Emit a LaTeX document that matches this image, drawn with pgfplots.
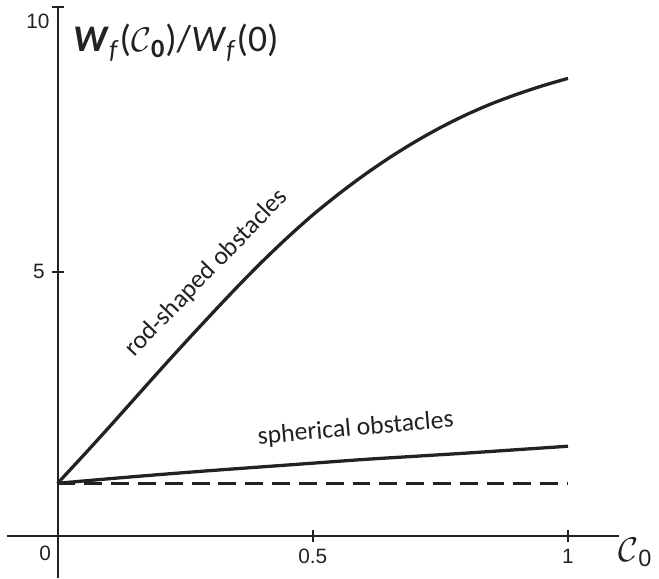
\documentclass[border=0pt]{standalone}
\usepackage{fontspec}
\setmainfont{Liberation Sans}
\newfontfamily\carlito{Carlito}
\usepackage{pgfplots}
\pgfplotsset{compat=1.18}
\definecolor{ink}{HTML}{222222}
\begin{document}
\begin{tikzpicture}
\begin{axis}[
  x=257bp, y=26.65bp,
  axis lines=middle,
  axis line style={-, line width=1bp, ink},
  xmin=-0.1, xmax=1.1, ymin=-0.788, ymax=10,
  xtick={0.5,1}, xticklabels={0.5,1},
  ytick={5,10}, yticklabels={5,{}},
  tick align=center, major tick length=6bp,
  tick style={line width=1bp, ink},
  ticklabel style={font=\fontsize{10.5}{12}\selectfont, text=ink},
  clip=false,
]
% rod-shaped obstacles
\addplot[line width=1.65bp, ink, smooth] coordinates {
  (0,1) (0.05,1.52) (0.1,2.05) (0.15,2.59) (0.2,3.13) (0.25,3.66)
  (0.3,4.18) (0.35,4.69) (0.4,5.18) (0.45,5.64) (0.5,6.07) (0.55,6.46)
  (0.6,6.82) (0.65,7.15) (0.7,7.45) (0.75,7.72) (0.8,7.96) (0.85,8.17)
  (0.9,8.35) (0.95,8.51) (1,8.65)};
% spherical obstacles
\addplot[line width=1.65bp, ink, smooth] coordinates {
  (0,1) (0.1,1.085) (0.2,1.165) (0.3,1.24) (0.4,1.31) (0.5,1.38)
  (0.6,1.45) (0.7,1.51) (0.8,1.57) (0.9,1.635) (1,1.70)};
% reference level
\addplot[line width=1.5bp, ink, dash pattern=on 9bp off 4.5bp] coordinates {(0,1) (1,1)};

\node[font=\carlito\fontsize{13}{15}\selectfont, text=ink, rotate=46] at (axis cs:0.292,4.97) {rod-shaped obstacles};
\node[font=\carlito\fontsize{13}{15}\selectfont, text=ink, rotate=5] at (axis cs:0.584,2.03) {spherical obstacles};
\node[font=\carlito\fontsize{19}{23}\selectfont, text=ink] at (axis cs:0.232,9.32)
  {\textbf{\textit{W}}\textsubscript{\textit{f}}($\mathcal{C}$\textsubscript{\textbf{0}})/\textit{W}\textsubscript{\textit{f}}(0)};
\node[font=\fontsize{17}{20}\selectfont, text=ink] at (axis cs:1.132,-0.30) {$\mathcal{C}$\textsubscript{0}};
\node[font=\fontsize{10.5}{12}\selectfont, text=ink, anchor=north east, inner sep=0pt] at (axis cs:-0.012,-0.18) {0};
\node[font=\fontsize{10.5}{12}\selectfont, text=ink, anchor=north east, inner sep=0pt] at (axis cs:-0.015,9.87) {10};
\path (axis cs:-0.1128,-0.788) rectangle (axis cs:1.1693,10.131);
\end{axis}
\end{tikzpicture}
\end{document}
